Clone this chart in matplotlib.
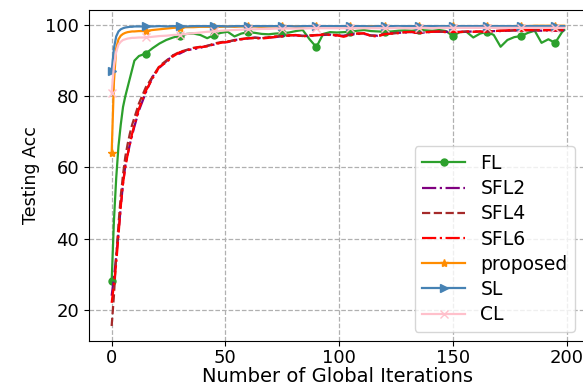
import matplotlib
matplotlib.use('Agg')
import matplotlib.pyplot as plt

# global iterations (dense at the start, every 3rd afterwards)
iters = list(range(11)) + list(range(12, 199, 3)) + [199]

fl = [28.0, 45, 57, 66, 72, 77, 80, 82.5, 85, 87.5, 90, 91.3, 92.0, 93.5, 94.8, 95.8, 96.5,
      97.0, 97.5, 97.6, 97.2, 96.3, 97.2, 97.8, 98.1, 96.8, 97.6, 98.0, 97.8, 97.5, 97.4,
      97.6, 97.7, 97.9, 98.3, 98.6, 96.0, 93.8, 97.5, 98.0, 97.9, 98.0, 98.1, 98.4, 98.6,
      98.3, 98.2, 98.1, 98.2, 98.4, 98.5, 98.4, 98.6, 98.5, 98.4, 98.6, 98.3, 96.9, 98.0,
      98.1, 96.5, 97.6, 98.1, 97.2, 93.9, 95.8, 96.6, 96.9, 97.8, 98.4, 95.0, 96.0, 95.0,
      98.0, 98.6]
sfl2 = [24, 29, 35, 41.5, 49, 55.5, 60.5, 63.5, 66.5, 69, 71.5, 76, 81, 85.5, 88, 89.8, 91.5,
        92.0, 93.0, 93.2, 93.6, 94.2, 94.5, 95.1, 95.2, 95.8, 96.0, 96.2, 96.5, 96.3, 96.5,
        96.6, 96.9, 97.0, 97.1, 97.0, 96.9, 97.2, 97.2, 97.3, 97.0, 97.0, 97.3, 97.5, 97.5,
        97.1, 97.0, 97.5, 97.7, 97.8, 97.9, 98.0, 97.8, 97.9, 98.1, 98.1, 98.1, 98.0, 98.1,
        98.1, 98.2, 98.1, 98.2, 98.3, 98.3, 98.4, 98.5, 98.4, 98.5, 98.5, 98.4, 98.5, 98.4,
        98.5, 98.5]
sfl4 = [15.5, 24, 35, 44, 52, 58, 63, 66.5, 69.5, 72, 74, 78, 82.5, 85.5, 88.5, 90, 91.5,
        92.5, 93.0, 93.6, 93.9, 94.1, 94.8, 95.2, 95.4, 95.7, 96.1, 96.3, 96.4, 96.3, 96.6,
        96.8, 96.9, 97.1, 97.1, 96.9, 97.1, 97.2, 97.4, 97.3, 97.2, 96.9, 97.3, 97.6, 97.6,
        97.0, 97.0, 97.5, 97.6, 97.8, 98.0, 98.0, 97.7, 98.0, 98.1, 98.2, 98.0, 98.1, 98.0,
        98.2, 98.1, 98.2, 98.1, 98.3, 98.4, 98.4, 98.5, 98.5, 98.5, 98.6, 98.5, 98.6, 98.5,
        98.6, 98.6]
sfl6 = [22, 27, 33, 41, 49, 55.5, 60, 63.5, 66.5, 69.5, 72, 76.5, 81.5, 85, 88.3, 89.5, 91.2,
        92.4, 92.8, 93.5, 93.8, 94.0, 94.6, 95.0, 95.3, 95.6, 96.0, 96.3, 96.3, 96.2, 96.4,
        96.7, 96.8, 97.1, 97.2, 96.8, 97.0, 97.1, 97.3, 97.2, 97.1, 96.7, 97.2, 97.6, 97.7,
        96.9, 96.8, 97.4, 97.6, 97.7, 98.0, 98.1, 97.6, 98.0, 98.1, 98.2, 98.0, 98.1, 98.0,
        98.2, 98.1, 98.2, 98.0, 98.3, 98.4, 98.5, 98.6, 98.4, 98.6, 98.6, 98.5, 98.6, 98.5,
        98.6, 98.6]
proposed = [64, 84, 93.5, 96, 97, 97.5, 97.8, 98.0, 98.1, 98.2, 98.2, 98.3, 98.3, 98.6, 98.8,
            99.0, 99.2, 99.3, 99.4, 99.4, 99.5, 99.5, 99.5, 99.5, 99.6, 99.5, 99.6, 99.6, 99.6,
            99.5, 99.6, 99.6, 99.6, 99.7, 99.6, 99.6, 99.7, 99.6, 99.7, 99.7, 99.6, 99.7, 99.7,
            99.7, 99.6, 99.7, 99.7, 99.7, 99.7, 99.6, 99.7, 99.7, 99.7, 99.7, 99.7, 99.7, 99.7,
            99.7, 99.7, 99.7, 99.7, 99.7, 99.8, 99.7, 99.7, 99.7, 99.7, 99.8, 99.7, 99.8, 99.8,
            99.8, 99.8, 99.8, 99.8]
sl = [87, 93.5, 96.8, 98.2, 98.8, 99.1, 99.3, 99.4, 99.5, 99.5, 99.6, 99.6, 99.6, 99.6, 99.7,
      99.6, 99.7, 99.7, 99.6, 99.7, 99.7, 99.7, 99.7, 99.7, 99.6, 99.7, 99.7, 99.7, 99.7,
      99.7, 99.7, 99.7, 99.7, 99.7, 99.6, 99.7, 99.7, 99.7, 99.7, 99.7, 99.7, 99.7, 99.7,
      99.7, 99.7, 99.6, 99.7, 99.7, 99.7, 99.7, 99.7, 99.7, 99.7, 99.7, 99.7, 99.7, 99.7,
      99.7, 99.7, 99.7, 99.7, 99.7, 99.7, 99.7, 99.7, 99.7, 99.7, 99.7, 99.7, 99.7, 99.7,
      99.7, 99.7, 99.7, 99.7]
cl = [81, 88.5, 92.5, 94.5, 95.3, 95.8, 96.0, 96.2, 96.3, 96.4, 96.4, 96.5, 96.5, 96.7, 96.9,
      97.0, 97.2, 97.3, 97.5, 97.7, 97.9, 98.1, 98.2, 98.4, 98.5, 98.6, 98.7, 98.8, 98.8,
      98.9, 98.9, 99.0, 99.0, 99.0, 99.0, 99.0, 99.1, 99.1, 99.1, 99.1, 99.1, 99.1, 99.1,
      99.1, 99.1, 99.1, 99.1, 99.1, 99.1, 99.2, 99.1, 99.1, 99.2, 99.2, 99.1, 99.2, 99.2,
      99.2, 99.2, 99.2, 99.2, 99.2, 99.2, 99.2, 99.2, 99.2, 99.2, 99.2, 99.2, 99.2, 99.2,
      99.2, 99.2, 99.2, 99.2]

# markers every 15 iterations
mk = [i for i, it in enumerate(iters) if it % 15 == 0]

plt.rcParams['font.size'] = 13
fig = plt.figure(figsize=(5.83, 3.87), dpi=100)
ax = fig.add_axes([0.1527, 0.119, 0.854, 0.855])

lw = 1.6
ax.plot(iters, fl, color='tab:green', marker='o', markersize=5, markevery=mk, lw=lw, label='FL')
ax.plot(iters, sfl2, color='purple', ls='-.', lw=lw, label='SFL2')
ax.plot(iters, sfl4, color='brown', ls='--', lw=lw, label='SFL4')
ax.plot(iters, sfl6, color='red', ls='-.', lw=lw, label='SFL6')
ax.plot(iters, proposed, color='darkorange', marker='*', markersize=6, markevery=mk, lw=lw, label='proposed')
ax.plot(iters, sl, color='steelblue', marker='>', markersize=6, markevery=mk, lw=lw, label='SL')
ax.plot(iters, cl, color='pink', marker='x', markersize=6, markevery=mk, lw=lw, label='CL')

ax.set_xlim(-9.95, 208.95)
ax.set_ylim(11.3, 104.2)
ax.set_xticks([0, 50, 100, 150, 200])
ax.set_yticks([20, 40, 60, 80, 100])
ax.tick_params(axis='x', pad=2)
ax.grid(ls='--', color='#b0b0b0', lw=0.9)
ax.set_xlabel('Number of Global Iterations', fontsize=14, labelpad=0)
ax.set_ylabel('Testing Acc', fontsize=12.5)
ax.legend(loc='lower right', bbox_to_anchor=(0.995, 0.0), handlelength=2.3,
          fontsize=13.5, labelspacing=0.33)

fig.savefig('out.png', dpi=100)
